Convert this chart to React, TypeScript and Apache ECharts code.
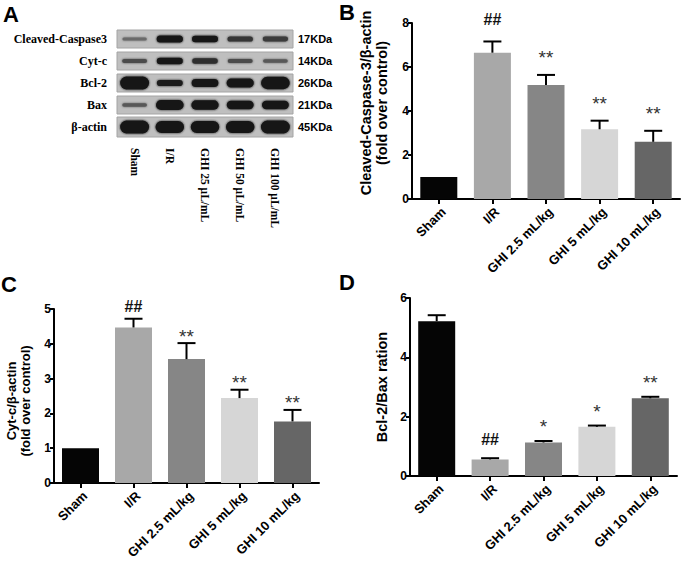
import React, { useEffect, useRef } from "react";
import * as echarts from "echarts";

const SANS = "'Liberation Sans', Arial, Helvetica, sans-serif";
const SERIF = "'Liberation Serif', 'Times New Roman', serif";

// ---------- data ----------
const groups = ["Sham", "I/R", "GHI 2.5 mL/kg", "GHI 5 mL/kg", "GHI 10 mL/kg"];
const barColors = ["#050505", "#a8a8a8", "#868686", "#d6d6d6", "#666666"];

const caspaseMean = [1.0, 6.65, 5.18, 3.17, 2.6];
const caspaseErr = [0, 0.51, 0.46, 0.39, 0.5];
const caspaseMarks = ["", "##", "**", "**", "**"];

const cytcMean = [1.0, 4.47, 3.56, 2.44, 1.77];
const cytcErr = [0, 0.25, 0.46, 0.24, 0.33];
const cytcMarks = ["", "##", "**", "**", "**"];

const ratioMean = [5.22, 0.56, 1.13, 1.66, 2.62];
const ratioErr = [0.2, 0.04, 0.05, 0.04, 0.05];
const ratioMarks = ["", "##", "*", "*", "**"];

const blotLanes = ["Sham", "I/R", "GHI 25 μL/mL", "GHI 50 μL/mL", "GHI 100 μL/mL"];
const blotProteins = ["Cleaved-Caspase3", "Cyt-c", "Bcl-2", "Bax", "β-actin"];
const blotWeights = ["17KDa", "14KDa", "26KDa", "21KDa", "45KDa"];
// relative band densities per lane
const caspaseBand = [0.22, 0.55, 0.5, 0.4, 0.38];
const cytcBand = [0.32, 0.5, 0.42, 0.32, 0.28];
const bcl2Band = [1.0, 0.48, 0.62, 0.7, 0.95];
const baxBand = [0.28, 0.78, 0.72, 0.65, 0.65];
const actinBand = [1.0, 0.92, 0.92, 0.92, 1.0];
const blotBands = [caspaseBand, cytcBand, bcl2Band, baxBand, actinBand];

// ---------- helpers ----------
function errorSeries(
  xAxisIndex: number,
  yAxisIndex: number,
  means: number[],
  errs: number[],
  marks: string[],
  gap: number
) {
  return {
    type: "custom",
    xAxisIndex,
    yAxisIndex,
    z: 5,
    silent: true,
    clip: false,
    encode: { x: 0, y: 1 },
    data: means.map((m, i) => [i, m, errs[i]]),
    renderItem: (_params: any, api: any) => {
      const i = api.value(0);
      const m = api.value(1);
      const e = api.value(2);
      const base = api.coord([i, m]);
      const top = api.coord([i, m + e]);
      const children: any[] = [];
      if (e > 0) {
        children.push({
          type: "line",
          shape: { x1: base[0], y1: base[1], x2: top[0], y2: top[1] },
          style: { stroke: "#000", lineWidth: 2 },
        });
        children.push({
          type: "line",
          shape: { x1: top[0] - 9, y1: top[1], x2: top[0] + 9, y2: top[1] },
          style: { stroke: "#000", lineWidth: 2 },
        });
      }
      const mk = marks[i];
      if (mk) {
        const isStar = mk.indexOf("*") >= 0;
        children.push({
          type: "text",
          x: top[0],
          y: top[1] - gap + (isStar ? 5 : 0),
          style: {
            text: mk,
            fill: isStar ? "#333" : "#111",
            fontFamily: SANS,
            fontSize: isStar ? 19 : 16,
            fontWeight: isStar ? "normal" : "bold",
            align: "center",
            verticalAlign: "middle",
          },
        });
      }
      return { type: "group", children };
    },
  };
}

function barSeries(xAxisIndex: number, yAxisIndex: number, means: number[]) {
  return {
    type: "bar",
    xAxisIndex,
    yAxisIndex,
    barWidth: 37,
    silent: true,
    data: means.map((v, i) => ({ value: v, itemStyle: { color: barColors[i] } })),
  };
}

function catAxis(gridIndex: number) {
  return {
    type: "category",
    gridIndex,
    data: groups,
    axisLine: { show: true, lineStyle: { color: "#000", width: 2 } },
    axisTick: { show: true, alignWithLabel: true, length: 5, lineStyle: { color: "#000", width: 2 } },
    axisLabel: {
      interval: 0,
      rotate: 45,
      fontFamily: SANS,
      fontWeight: "bold",
      fontSize: 13,
      color: "#000",
      margin: 6,
      align: "right",
      verticalAlign: "top",
    },
    splitLine: { show: false },
  };
}

function valueAxis(
  gridIndex: number,
  max: number,
  interval: number,
  name: string,
  nameGap: number,
  fontSize: number,
  lineHeight: number,
  padding: number[]
) {
  return {
    type: "value",
    gridIndex,
    min: 0,
    max,
    interval,
    name,
    nameLocation: "middle",
    nameGap,
    nameRotate: 90,
    nameTextStyle: {
      fontFamily: SANS,
      fontWeight: "bold",
      fontSize,
      lineHeight,
      color: "#000",
      align: "center",
      padding,
    },
    axisLine: { show: true, lineStyle: { color: "#000", width: 2 } },
    axisTick: { show: true, length: 4, lineStyle: { color: "#000", width: 2 } },
    axisLabel: { fontFamily: SANS, fontWeight: "bold", fontSize: 12, color: "#000", margin: 3 },
    splitLine: { show: false },
  };
}

const panelLetter = (text: string, x: number, y: number) => ({
  type: "text",
  x,
  y,
  style: {
    text,
    fontFamily: SANS,
    fontWeight: "bold",
    fontSize: 22,
    fill: "#000",
    align: "left",
    verticalAlign: "middle",
  },
});

export default function App() {
  const ref = useRef<HTMLDivElement>(null);

  useEffect(() => {
    const chart = echarts.init(ref.current!, null, { renderer: "svg" });

    const bandData: number[][] = [];
    blotBands.forEach((row, r) => row.forEach((d, l) => bandData.push([l, r, d])));

    const option: any = {
      animation: false,
      backgroundColor: "#fff",
      grid: [
        { left: 117, top: 28, width: 176, height: 110, containLabel: false, outerBoundsMode: "none" },
        { left: 412, top: 23, width: 268, height: 176, containLabel: false, outerBoundsMode: "none" },
        { left: 54, top: 309, width: 265, height: 174, containLabel: false, outerBoundsMode: "none" },
        { left: 410, top: 298, width: 267, height: 178, containLabel: false, outerBoundsMode: "none" },
      ],
      xAxis: [
        {
          type: "category",
          gridIndex: 0,
          data: blotLanes,
          axisLine: { show: false },
          axisTick: { show: false },
          axisLabel: {
            interval: 0,
            rotate: -90,
            margin: 10,
            fontFamily: SERIF,
            fontWeight: "bold",
            fontSize: 11.5,
            color: "#000",
          },
          splitLine: { show: false },
        },
        catAxis(1),
        catAxis(2),
        catAxis(3),
      ],
      yAxis: [
        {
          type: "category",
          gridIndex: 0,
          data: blotProteins,
          inverse: true,
          axisLine: { show: false },
          axisTick: { show: false },
          axisLabel: { margin: 10, fontFamily: SERIF, fontWeight: "bold", fontSize: 12, color: "#000" },
          splitLine: { show: false },
        },
        {
          type: "category",
          gridIndex: 0,
          data: blotWeights,
          inverse: true,
          position: "right",
          axisLine: { show: false },
          axisTick: { show: false },
          axisLabel: { margin: 5, fontFamily: SANS, fontWeight: "bold", fontSize: 11, color: "#000" },
          splitLine: { show: false },
        },
        valueAxis(1, 8, 2, "Cleaved-Caspase-3/β-actin\n(fold over control)", 22, 14.5, 16, [0, 0, 0, 16]),
        valueAxis(2, 5, 1, "Cyt-c/β-actin\n(fold over control)", 22, 13, 14, [0, 10, 0, 0]),
        valueAxis(3, 6, 2, "Bcl-2/Bax ration", 20, 14.5, 16, [0, 0, 0, 0]),
      ],
      graphic: [
        panelLetter("A", 3, 14),
        panelLetter("B", 339, 12),
        panelLetter("C", 1, 284),
        panelLetter("D", 339, 282),
      ],
      series: [
        {
          type: "custom",
          xAxisIndex: 0,
          yAxisIndex: 0,
          silent: true,
          clip: false,
          encode: { x: 0, y: 1 },
          data: blotProteins.map((_, r) => [0, r]),
          renderItem: (params: any, api: any) => {
            const cs = params.coordSys;
            const r = api.value(1);
            const c = api.coord([0, r]);
            const h = r === blotProteins.length - 1 ? 20 : 18;
            return {
              type: "rect",
              shape: { x: cs.x, y: c[1] - h / 2, width: cs.width, height: h },
              style: { fill: "#bfbfbf", stroke: "#a4a4a4", lineWidth: 1 },
            };
          },
        },
        {
          type: "custom",
          xAxisIndex: 0,
          yAxisIndex: 0,
          silent: true,
          clip: false,
          z: 3,
          encode: { x: 0, y: 1 },
          data: bandData,
          renderItem: (_params: any, api: any) => {
            const l = api.value(0);
            const r = api.value(1);
            const d = api.value(2);
            const c = api.coord([l, r]);
            const h = Math.max(3, 13 * d);
            const w = 23 + 6 * d;
            const lum = d >= 0.5 ? 22 : Math.round(22 + ((0.5 - d) / 0.3) * 90);
            const col = `rgb(${lum},${lum},${lum})`;
            return {
              type: "rect",
              shape: { x: c[0] - w / 2, y: c[1] - h / 2, width: w, height: h, r: h / 2 },
              style: { fill: col, shadowBlur: 2, shadowColor: col },
            };
          },
        },
        barSeries(1, 2, caspaseMean),
        errorSeries(1, 2, caspaseMean, caspaseErr, caspaseMarks, 22),
        barSeries(2, 3, cytcMean),
        errorSeries(2, 3, cytcMean, cytcErr, cytcMarks, 12),
        barSeries(3, 4, ratioMean),
        errorSeries(3, 4, ratioMean, ratioErr, ratioMarks, 19),
      ],
    };

    chart.setOption(option);
    return () => chart.dispose();
  }, []);

  return (
    <div
      ref={ref}
      style={{ position: "absolute", left: 0, top: 0, width: 685, height: 561, background: "#fff" }}
    />
  );
}
